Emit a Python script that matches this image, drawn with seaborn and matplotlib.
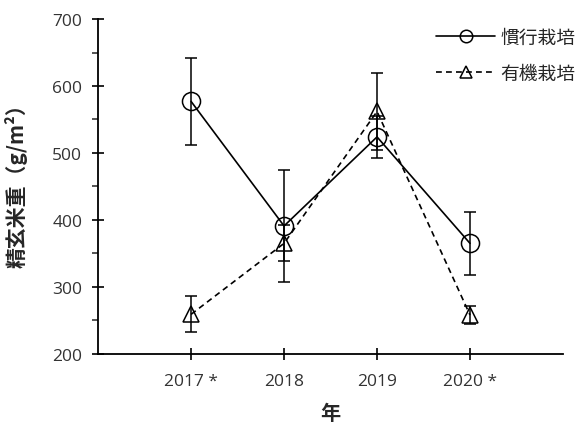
import numpy as np
import pandas as pd
import matplotlib
matplotlib.use("Agg")
import matplotlib.pyplot as plt
import seaborn as sns

# Datos
years = [2017, 2018, 2019, 2020]
year_labels = ["2017 *", "2018", "2019", "2020 *"]
conv_mean = [577, 391, 524, 365]
conv_err = [65, 84, 31, 47]
org_mean = [259, 365, 562, 258]
org_err = [27, 27, 57, 14]
series_names = ["慣行栽培", "有機栽培"]

sns.set_style("white")
plt.rcParams["font.family"] = ["Noto Sans CJK JP", "DejaVu Sans"]

df = pd.DataFrame({
    "年": years * 2,
    "重": conv_mean + org_mean,
    "区": [series_names[0]] * 4 + [series_names[1]] * 4,
})

fig = plt.figure(figsize=(5.84, 4.27), dpi=100)
ax = fig.add_axes([0.168, 0.169, 0.796, 0.784])

# barras de error primero, los marcadores van encima
ax.errorbar(years, conv_mean, yerr=conv_err, fmt="none", ecolor="black",
            elinewidth=1.1, capsize=4.5, capthick=1.1, zorder=2)
ax.errorbar(years, org_mean, yerr=org_err, fmt="none", ecolor="black",
            elinewidth=1.1, capsize=4.5, capthick=1.1, zorder=2)

sns.lineplot(
    data=df, x="年", y="重", style="区", ax=ax,
    color="black", markers=["o", "^"], dashes=[(None, None), (3.5, 2.5)],
    markersize=13, markerfacecolor="none", markeredgecolor="black",
    markeredgewidth=1.1, linewidth=1.2, zorder=3,
)
for ln in ax.lines:
    if ln.get_marker() == "^":
        ln.set_markersize(11.5)

ax.set_xlim(2016, 2021)
ax.set_ylim(200, 700)
ax.set_xticks(years)
ax.set_xticklabels(year_labels)
ax.set_yticks(np.arange(200, 701, 100))
ax.set_yticks(np.arange(250, 700, 100), minor=True)

for s in ["top", "right"]:
    ax.spines[s].set_visible(False)
for s in ["left", "bottom"]:
    ax.spines[s].set_color("black")
    ax.spines[s].set_linewidth(1.3)

ax.tick_params(axis="both", which="major", direction="inout", length=9,
               width=1.2, colors="black", labelcolor="#333333",
               left=True, bottom=True, pad=7)
ax.tick_params(axis="x", which="major", pad=9)
ax.tick_params(axis="y", which="minor", direction="out", length=4,
               width=1.1, left=True)
for lab in ax.get_xticklabels() + ax.get_yticklabels():
    lab.set_family(["Open Sans", "DejaVu Sans"])
    lab.set_fontsize(12.5)

ax.set_xlabel("年", fontsize=14.5, fontweight="bold", labelpad=10)
ax.set_ylabel("精玄米重（g/m²）", fontsize=15, fontweight="bold")
ax.yaxis.set_label_coords(-0.152, 0.52)

leg = ax.legend(loc="upper right", frameon=False, fontsize=13.5,
                handlelength=3.1, handletextpad=0.3, labelspacing=0.8,
                borderpad=0, borderaxespad=0,
                bbox_to_anchor=(0.985, 0.935), bbox_transform=fig.transFigure)
for h in leg.legend_handles:
    h.set_markersize(9)

fig.savefig("out.png", dpi=100)
